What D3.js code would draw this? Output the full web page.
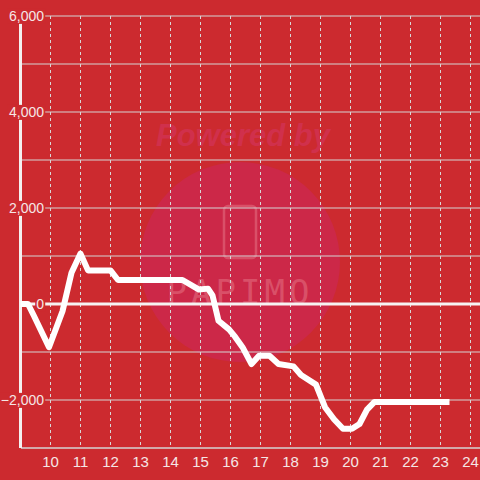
<!DOCTYPE html>
<html>
<head>
<meta charset="utf-8">
<script src="https://cdn.jsdelivr.net/npm/d3@7"></script>
<style>
	html, body { margin: 0; padding: 0; background: #cc2a2f; }
	svg { display: block; }
</style>
</head>
<body>
<svg id="chart" width="480" height="480"></svg>
<script>
// data: hour of day and running balance
var hours = [9.0, 9.25, 9.45, 9.95, 10.4, 10.7, 11.0, 11.25, 12.0, 12.25, 14.4, 14.95, 15.25, 15.4, 15.6,
	15.95, 16.15, 16.4, 16.7, 16.95, 17.3, 17.6, 18.1, 18.35, 18.85, 19.15, 19.45, 19.75, 20.05, 20.3,
	20.55, 20.8, 23.3];
var values = [0, 0, -250, -900, -150, 650, 1050, 700, 700, 500, 500, 300, 320, 180, -350,
	-530, -680, -900, -1250, -1080, -1080, -1250, -1300, -1480, -1680, -2150, -2400, -2600, -2600, -2500,
	-2200, -2040, -2040];
var xTicks = [10, 11, 12, 13, 14, 15, 16, 17, 18, 19, 20, 21, 22, 23, 24];
var yTicks = [-2000, 0, 2000, 4000, 6000];
var yGrid = [-2000, -1000, 0, 1000, 2000, 3000, 4000, 5000, 6000];

var svg = d3.select("#chart");
var bg = "#cc2a2f";

var x = d3.scaleLinear().domain([9, 24 + 9.5 / 30]).range([20.5, 480]);
var y = d3.scaleLinear().domain([-3000, 6000]).range([448, 16]);

svg.append("rect").attr("width", 480).attr("height", 480).attr("fill", bg);

// watermark
var wm = svg.append("g");
wm.append("circle").attr("cx", 240).attr("cy", 262).attr("r", 100).attr("fill", "#cc2848");
wm.append("text").attr("x", 243).attr("y", 146)
	.attr("text-anchor", "middle")
	.style("font", "italic bold 31px 'Liberation Sans', Arial, sans-serif")
	.attr("fill", "#d0304c")
	.text("Powered by");
wm.append("rect").attr("x", 224).attr("y", 206).attr("width", 32).attr("height", 52).attr("rx", 4)
	.attr("fill", "none").attr("stroke", "#d95068").attr("stroke-width", 2.5);
wm.append("text").attr("x", 240).attr("y", 304)
	.attr("text-anchor", "middle")
	.style("font", "34px 'DejaVu Sans Mono', monospace")
	.style("letter-spacing", "4px")
	.attr("fill", "#d95068")
	.text("PAPIMO");

// grid
svg.append("g").selectAll("line").data(yGrid).enter().append("line")
	.attr("x1", 21).attr("x2", 480)
	.attr("y1", function(d) { return y(d); })
	.attr("y2", function(d) { return y(d); })
	.attr("stroke", "#d4d4d4").attr("stroke-width", 1.2);

svg.append("g").selectAll("line").data(xTicks).enter().append("line")
	.attr("x1", function(d) { return x(d); })
	.attr("x2", function(d) { return x(d); })
	.attr("y1", y(6000)).attr("y2", 448)
	.attr("stroke", "#d8d8d8").attr("stroke-width", 1)
	.attr("stroke-dasharray", "3,3");

// bottom axis line
svg.append("line").attr("x1", 21).attr("x2", 480).attr("y1", 448).attr("y2", 448)
	.attr("stroke", "#d4d4d4").attr("stroke-width", 1.5);

// left axis line
svg.append("line").attr("x1", 20.5).attr("x2", 20.5).attr("y1", y(6000)).attr("y2", 448)
	.attr("stroke", "#f4f0f0").attr("stroke-width", 3);

// zero line
svg.append("line").attr("x1", 21).attr("x2", 480).attr("y1", y(0)).attr("y2", y(0))
	.attr("stroke", "#f6f2f2").attr("stroke-width", 3);

// y labels with background boxes
var fmt = d3.format(",");
var yl = svg.append("g").selectAll("g").data(yTicks).enter().append("g")
	.attr("transform", function(d) { return "translate(44," + y(d) + ")"; });
yl.append("text")
	.attr("text-anchor", "end")
	.attr("dy", "0.35em")
	.style("font", "14px 'Liberation Sans', Arial, sans-serif")
	.attr("fill", "#f5e6e6")
	.text(function(d) { return fmt(d); })
	.each(function(d) {
		var b = this.getBBox();
		d3.select(this.parentNode).insert("rect", "text")
			.attr("x", b.x - 1).attr("y", b.y + 1)
			.attr("width", b.width + 2).attr("height", b.height - 1)
			.attr("fill", bg);
	});

// x labels
svg.append("g").selectAll("text").data(xTicks).enter().append("text")
	.attr("x", function(d) { return x(d); })
	.attr("y", 467)
	.attr("text-anchor", "middle")
	.style("font", "15px 'Liberation Sans', Arial, sans-serif")
	.attr("fill", "#f5e6e6")
	.text(function(d) { return d; });

// balance line
var line = d3.line()
	.x(function(d, i) { return x(hours[i]); })
	.y(function(d) { return y(d); });

svg.append("path")
	.attr("d", line(values))
	.attr("fill", "none")
	.attr("stroke", "#ffffff")
	.attr("stroke-width", 6)
	.attr("stroke-linejoin", "round");
</script>
</body>
</html>
